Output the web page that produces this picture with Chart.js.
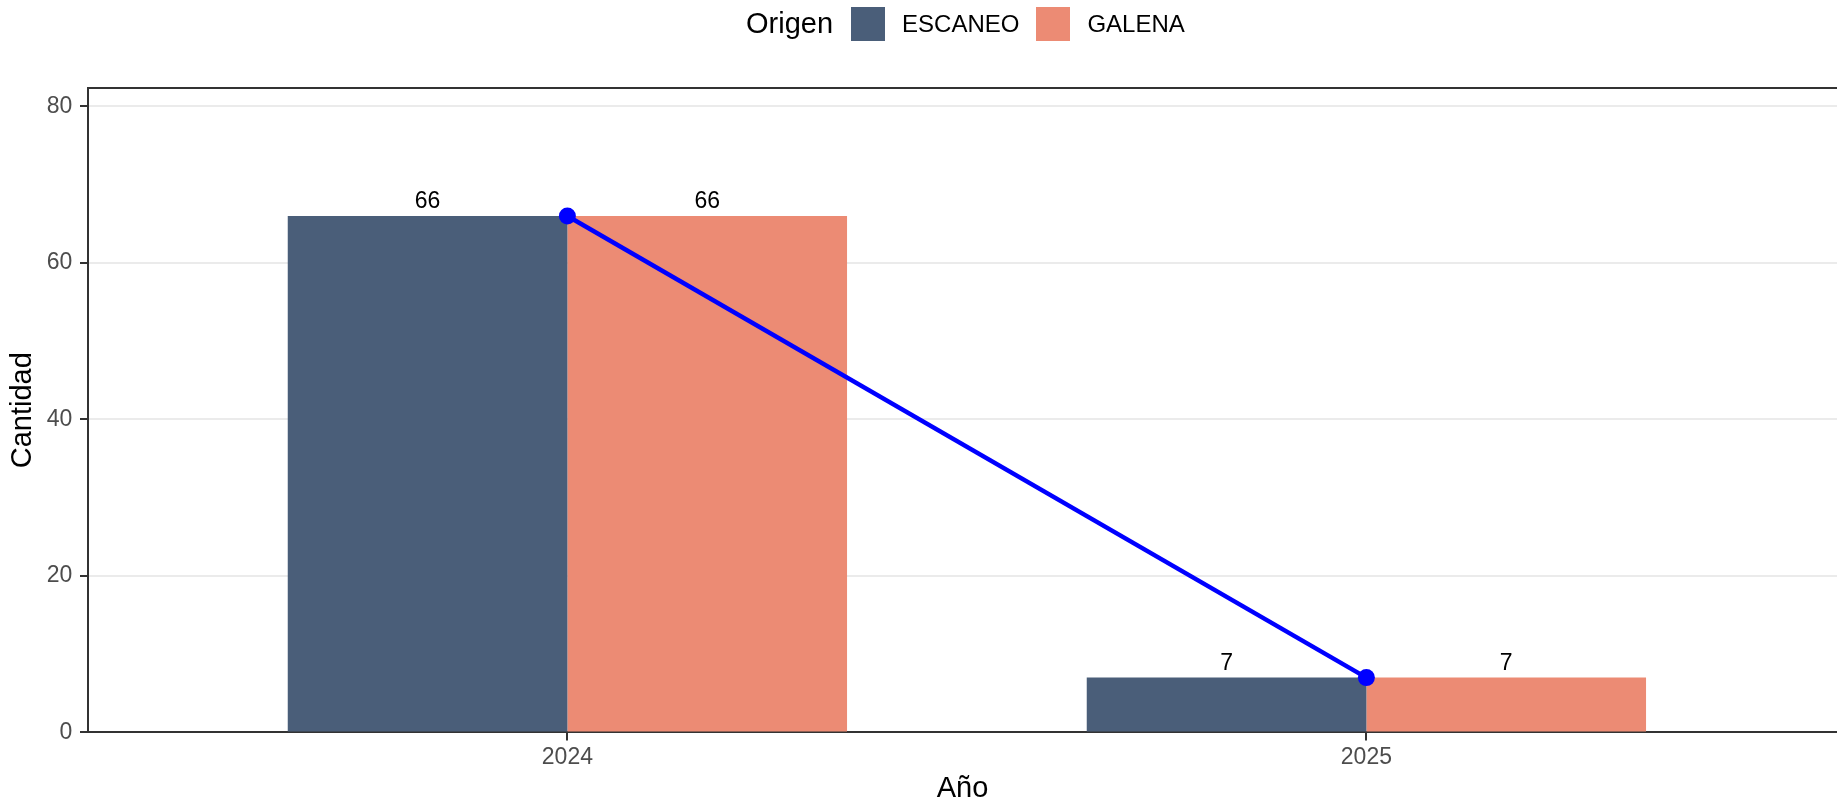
<!DOCTYPE html>
<html>
<head>
<meta charset="utf-8">
<script src="https://cdn.jsdelivr.net/npm/chart.js@4/dist/chart.umd.min.js"></script>
<style>
  body { margin: 0; background: #fff; font-family: "Liberation Sans", Arial, sans-serif; }
  #wrap { position: relative; width: 1837px; height: 804px; }
  #legend { position: absolute; left: 746px; top: 6px; height: 35px; display: flex; align-items: center; }
  #legend .ttl { font-size: 29px; color: #000; margin-right: 18px; }
  #legend .key { width: 34px; height: 34px; margin-right: 17px; box-sizing: border-box; }
  #legend .lbl { font-size: 24px; color: #000; margin-right: 17px; }
</style>
</head>
<body>
<div id="wrap">
  <canvas id="chart" width="1837" height="804"></canvas>
  <div id="legend"></div>
</div>
<script>
// datos
const YEARS    = ['2024', '2025'];
const XPOS     = [1, 2];
const ESCANEO  = [66, 7];
const GALENA   = [66, 7];
const TOTAL_LN = [66, 7];   // línea azul (valor por año)
const YTICKS   = [0, 20, 40, 60, 80];

const SERIES = [
  { label: 'ESCANEO', data: ESCANEO, color: '#4A5E79' },
  { label: 'GALENA',  data: GALENA,  color: '#EC8B74' },
];

// Leyenda (HTML)
document.getElementById('legend').innerHTML =
  '<span class="ttl">Origen</span>' +
  SERIES.map(s => `<span class="key" style="background:${s.color}"></span><span class="lbl">${s.label}</span>`).join('');

const FONT = '"Liberation Sans", Arial, sans-serif';

// etiquetas encima de las barras + borde superior del panel
const extras = {
  id: 'extras',
  afterDatasetsDraw(chart) {
    const ctx = chart.ctx;
    ctx.save();
    ctx.font = `23px ${FONT}`;
    ctx.fillStyle = '#000';
    ctx.textAlign = 'center';
    ctx.textBaseline = 'alphabetic';
    chart.data.datasets.forEach((ds, i) => {
      if (ds.type === 'line') return;
      chart.getDatasetMeta(i).data.forEach((bar, j) => {
        ctx.fillText(String(ds.data[j].y), bar.x, bar.y - 8);
      });
    });
    const a = chart.chartArea;
    ctx.strokeStyle = '#333333';
    ctx.lineWidth = 2;
    ctx.beginPath();
    ctx.moveTo(a.left, a.top);
    ctx.lineTo(a.right, a.top);
    ctx.stroke();
    ctx.restore();
  }
};

// eje Y: etiquetas en modo "mirror" con padding negativo para que el ancho
// del eje no dependa de medir el texto
const Y_LABEL_PAD = -41.3;

const chart = new Chart(document.getElementById('chart'), {
  type: 'bar',
  data: {
    datasets: [
      {
        type: 'line',
        label: 'Total',
        data: XPOS.map((x, i) => ({ x, y: TOTAL_LN[i] })),
        borderColor: '#0000FF',
        backgroundColor: '#0000FF',
        borderWidth: 4.5,
        pointRadius: 8.5,
        pointBackgroundColor: '#0000FF',
        pointBorderWidth: 0,
        tension: 0,
        clip: false,
        order: 0,
      },
      ...SERIES.map(s => ({
        label: s.label,
        data: XPOS.map((x, i) => ({ x, y: s.data[i] })),
        backgroundColor: s.color,
        borderWidth: 0,
        categoryPercentage: 0.7,
        barPercentage: 1.0,
        order: 1,
      })),
    ],
  },
  options: {
    responsive: false,
    animation: false,
    layout: { autoPadding: false, padding: { top: 88, right: 0, left: 0, bottom: 1 } },
    plugins: { legend: { display: false }, tooltip: { enabled: false } },
    scales: {
      x: {
        type: 'linear',
        offset: false,
        bounds: 'data',
        min: 0.4, max: 2.589,
        afterBuildTicks: s => { s.ticks = XPOS.map(v => ({ value: v })); },
        ticks: {
          callback: v => YEARS[XPOS.indexOf(v)],
          font: { size: 23, family: FONT }, color: '#4D4D4D', padding: 3,
        },
        grid: { display: true, drawOnChartArea: false, offset: false, tickLength: 8, tickColor: '#333333', lineWidth: 2 },
        border: { display: true, color: '#333333', width: 2 },
        title: { display: true, text: 'Año', font: { size: 29, family: FONT, lineHeight: 1.0 }, color: '#000', padding: { top: 0, bottom: 0 } },
      },
      y: {
        min: 0, max: 82.35,
        afterBuildTicks: s => { s.ticks = YTICKS.map(v => ({ value: v })); },
        ticks: {
          mirror: true, padding: Y_LABEL_PAD,
          callback: v => (v < 10 ? '\u2007' : '') + v,
          font: { size: 23, family: FONT }, color: '#4D4D4D',
        },
        grid: { color: '#EBEBEB', lineWidth: 2, tickLength: 8, tickColor: '#333333' },
        border: { display: true, color: '#333333', width: 2 },
        title: { display: true, text: 'Cantidad', font: { size: 29, family: FONT, lineHeight: 1.0 }, color: '#000', padding: { top: 8.5, bottom: 125.1 } },
      },
    },
  },
  plugins: [extras],
});
</script>
</body>
</html>
